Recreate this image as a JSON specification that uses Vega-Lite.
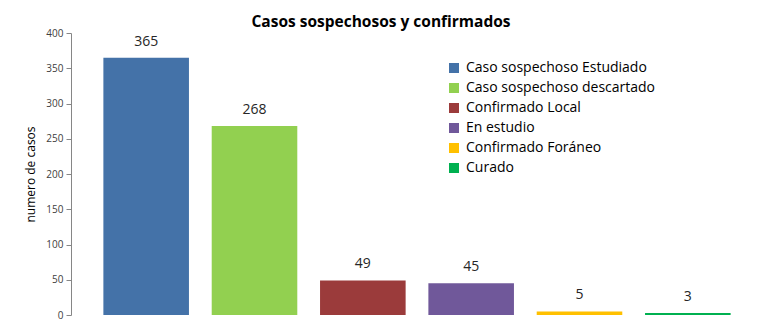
{
  "$schema": "https://vega.github.io/schema/vega-lite/v6.json",
  "width": 650,
  "height": 282,
  "autosize": {"type": "none"},
  "padding": {"left": 92, "top": 33, "right": 23, "bottom": 9},
  "background": "white",
  "config": {"view": {"stroke": null}, "font": "Open Sans"},
  "title": {"text": "Casos sospechosos y confirmados", "fontSize": 15.5, "fontWeight": "bold", "font": "Open Sans", "color": "#000000", "anchor": "middle", "dx": -36, "offset": -2},
  "data": {"values": [
    {"categoria": "Caso sospechoso Estudiado", "casos": 365},
    {"categoria": "Caso sospechoso descartado", "casos": 268},
    {"categoria": "Confirmado Local", "casos": 49},
    {"categoria": "En estudio", "casos": 45},
    {"categoria": "Confirmado Foráneo", "casos": 5},
    {"categoria": "Curado", "casos": 3}
  ]},
  "encoding": {
    "x": {"field": "categoria", "type": "nominal", "sort": null, "axis": null,
          "scale": {"paddingInner": 0.21, "paddingOuter": 0.105}},
    "y": {"field": "casos", "type": "quantitative",
          "scale": {"domain": [0, 400]},
          "axis": {"title": "numero de casos", "values": [0, 50, 100, 150, 200, 250, 300, 350, 400],
                   "offset": 21, "grid": false, "domainColor": "#868686", "tickColor": "#868686",
                   "tickSize": 5, "labelFontSize": 10, "labelColor": "#404040", "labelPadding": 3,
                   "titleFontSize": 12, "titleFontWeight": "normal", "titleColor": "#000000", "titlePadding": 8}}
  },
  "layer": [
    {"mark": {"type": "bar"},
     "encoding": {"color": {"field": "categoria", "type": "nominal", "sort": null,
        "scale": {"domain": ["Caso sospechoso Estudiado", "Caso sospechoso descartado", "Confirmado Local", "En estudio", "Confirmado Foráneo", "Curado"],
                  "range": ["#4472A8", "#92D050", "#9B3B3B", "#70589A", "#FFC000", "#00B050"]},
        "legend": {"title": null, "orient": "none", "legendX": 355, "legendY": 28, "symbolType": "square",
                   "symbolSize": 100, "symbolStrokeWidth": 0, "labelFontSize": 14, "labelColor": "#000000",
                   "rowPadding": 6, "labelOffset": 5, "labelLimit": 300}}}},
    {"mark": {"type": "text", "dy": -16, "fontSize": 14, "color": "#262626"},
     "encoding": {"text": {"field": "casos", "type": "quantitative"}}}
  ]
}
